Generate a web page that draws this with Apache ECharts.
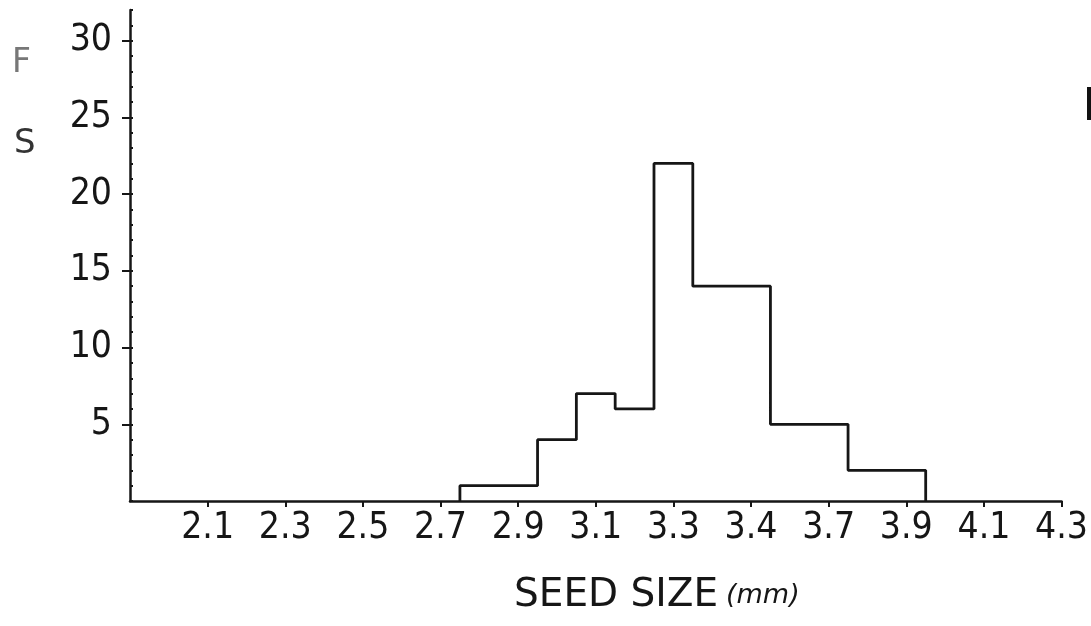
<!DOCTYPE html>
<html><head><meta charset="utf-8">
<script src="https://cdn.jsdelivr.net/npm/echarts@6/dist/echarts.min.js"></script>
<style>html,body{margin:0;padding:0;background:#fff}#c{width:1091px;height:626px}</style>
</head><body><div id="c"></div>
<script>
// Tick labels of the x axis (equally spaced positions 0..12, position 0 = axis origin)
const xTickLabels = ['', '2.1', '2.3', '2.5', '2.7', '2.9', '3.1', '3.3', '3.4', '3.7', '3.9', '4.1', '4.3'];
// Y tick labels
const yTickLabels = [5, 10, 15, 20, 25, 30];
// Histogram bin edges (in x-axis tick-position units) and frequencies
const binEdges = [4.25, 5.25, 5.75, 6.25, 6.75, 7.25, 8.25, 9.25, 10.25];
const frequencies = [1, 4, 7, 6, 22, 14, 5, 2];

const pts = [[binEdges[0], 0]];
for (let i = 0; i < frequencies.length; i++) {
  pts.push([binEdges[i], frequencies[i]]);
  pts.push([binEdges[i + 1], frequencies[i]]);
}
pts.push([binEdges[binEdges.length - 1], 0]);

const xTickPositions = xTickLabels.map((l, i) => i).filter(i => xTickLabels[i] !== '');

const ink = '#161616';
const numFont = "'Liberation Sans Narrow', 'DejaVu Sans Condensed', sans-serif";

const chart = echarts.init(document.getElementById('c'), null, {renderer: 'canvas'});
chart.setOption({
  animation: false,
  backgroundColor: '#ffffff',
  grid: {left: 130, right: 29, top: 10, bottom: 125, containLabel: false},
  xAxis: {
    type: 'value', min: 0, max: xTickLabels.length - 1, interval: 1,
    axisLine: {show: true, lineStyle: {color: ink, width: 2.5}},
    axisTick: {show: true, inside: false, length: 6, customValues: xTickPositions, lineStyle: {color: ink, width: 2}},
    axisLabel: {
      show: true, margin: 9, color: ink, fontFamily: numFont, fontSize: 37,
      showMinLabel: true, showMaxLabel: true,
      formatter: v => xTickLabels[Math.round(v)] || ''
    },
    splitLine: {show: false}
  },
  yAxis: [{
    type: 'value', min: 0, max: 32, interval: 5,
    axisLine: {show: true, lineStyle: {color: ink, width: 2.5}},
    axisTick: {show: true, inside: false, length: 8, customValues: yTickLabels, lineStyle: {color: ink, width: 2}},
    axisLabel: {
      show: true, margin: 18, color: ink, fontFamily: numFont, fontSize: 37,
      showMaxLabel: false,
      formatter: v => (yTickLabels.indexOf(v) >= 0 ? String(v) : '')
    },
    splitLine: {show: false}
  }, {
    type: 'value', min: 0, max: 32, interval: 1, position: 'left',
    axisLine: {show: false},
    axisTick: {show: true, inside: true, length: 3, lineStyle: {color: ink, width: 2}},
    axisLabel: {show: false},
    splitLine: {show: false}
  }],
  series: [{
    type: 'line', data: pts, yAxisIndex: 0,
    showSymbol: false, symbol: 'none', smooth: false,
    lineStyle: {color: ink, width: 2.8}
  }],
  graphic: [
    {type: 'text', left: 12, top: 47, style: {text: 'F', fontFamily: "'DejaVu Sans', sans-serif", fontSize: 33, fill: '#777'}},
    {type: 'text', left: 14, top: 127, style: {text: 'S', fontFamily: "'DejaVu Sans', sans-serif", fontSize: 34, fill: '#333'}},
    {type: 'text', left: 514, top: 576, style: {text: 'SEED SIZE', fontFamily: "'DejaVu Sans', sans-serif", fontSize: 39, fill: ink}},
    {type: 'text', left: 726, top: 582, style: {text: '(mm)', fontFamily: "'DejaVu Sans', sans-serif", fontSize: 27, fontStyle: 'italic', fill: ink}},
    {type: 'rect', shape: {x: 1087, y: 87, width: 4, height: 33}, style: {fill: '#111'}}
  ]
});
</script>
</body></html>
